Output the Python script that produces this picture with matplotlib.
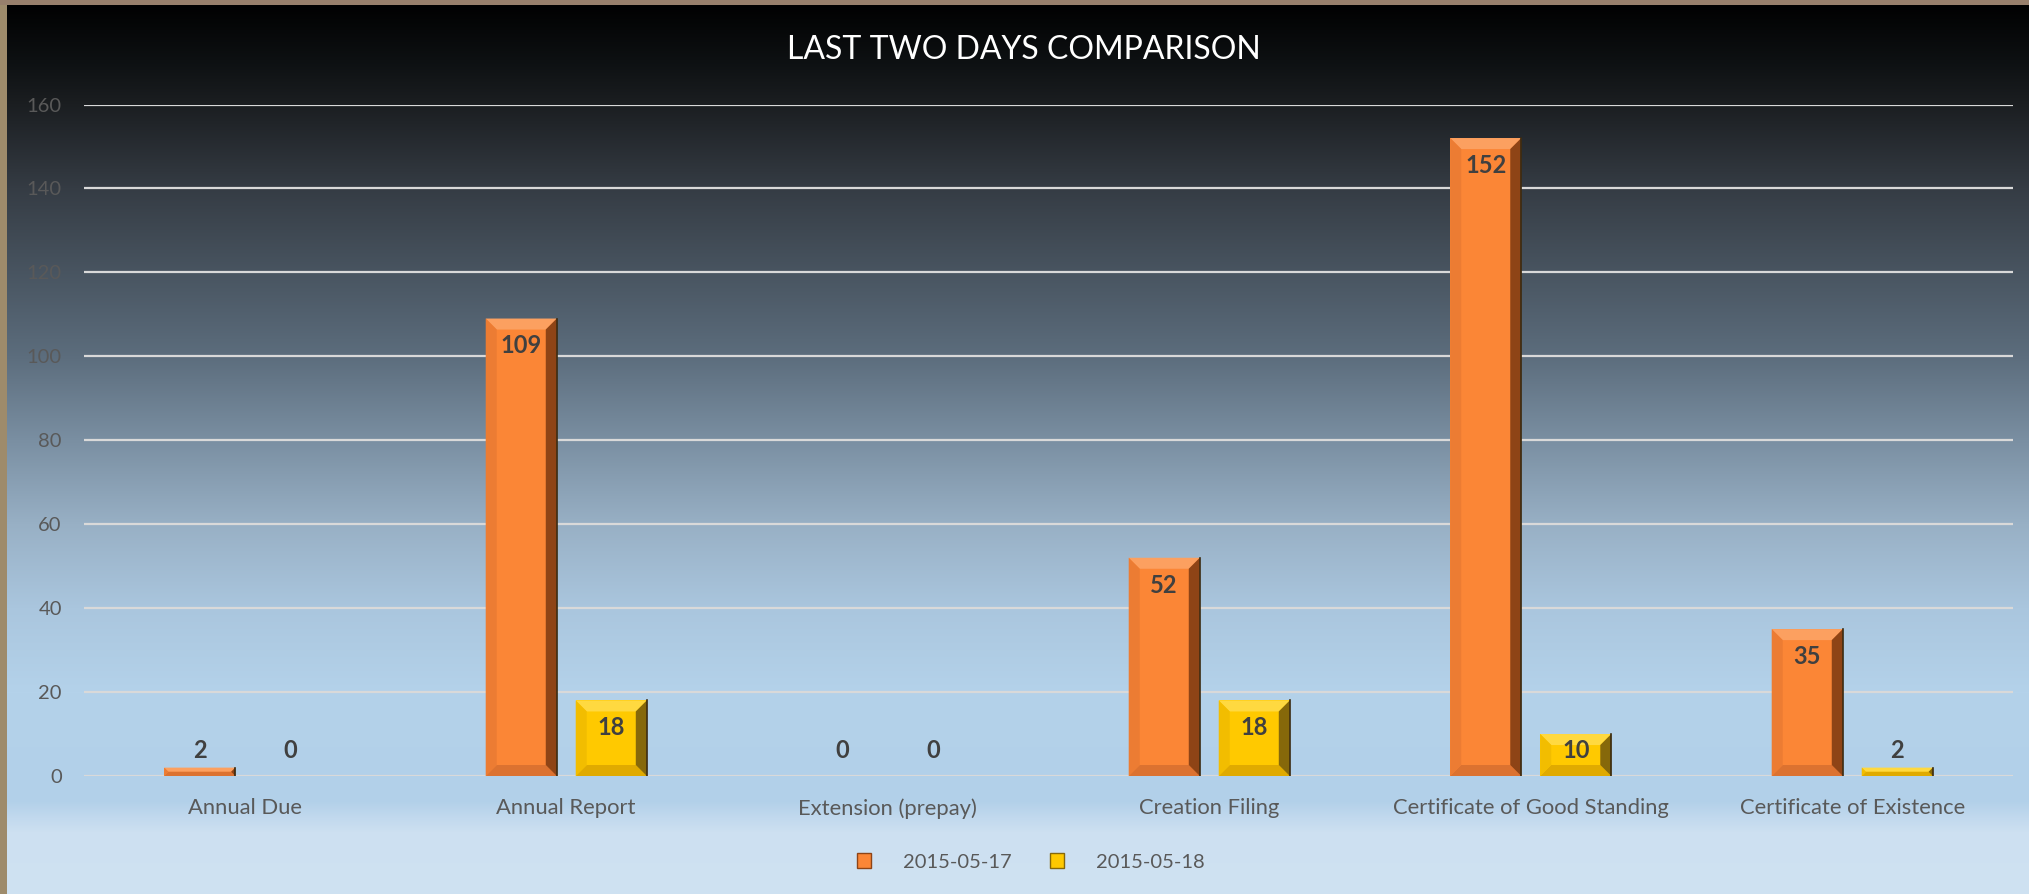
import matplotlib
matplotlib.use("Agg")
import matplotlib.pyplot as plt
import numpy as np
from matplotlib.patches import Polygon, Rectangle, Patch

plt.rcParams['font.family'] = ['Lato', 'DejaVu Sans']

# dades
categories = ["Annual Due", "Annual Report", "Extension (prepay)", "Creation Filing",
              "Certificate of Good Standing", "Certificate of Existence"]
day1 = [2, 109, 0, 52, 152, 35]
day2 = [0, 18, 0, 18, 10, 2]
series_names = ["2015-05-17", "2015-05-18"]
title = "LAST TWO DAYS COMPARISON"

W, H = 2029, 894
fig = plt.figure(figsize=(W / 100, H / 100), dpi=100)

# fons amb degradat
bg = fig.add_axes([0, 0, 1, 1], zorder=-10)
stops_y = [0, 60, 104, 188, 356, 440, 524, 608, 692, 800, 818, 832, 894]
stops_c = ["#000000", "#0d1012", "#1b1e21", "#353c44", "#5c6d7d", "#7a8fa2",
           "#98b0c5", "#aac6de", "#b4d2ea", "#b2d0e9", "#c2d9ee", "#cde0f1", "#cfe2f2"]
rgb = np.array([matplotlib.colors.to_rgb(c) for c in stops_c])
yy = np.arange(H)
grad = np.stack([np.interp(yy, stops_y, rgb[:, k]) for k in range(3)], axis=1)
bg.imshow(grad[:, None, :], aspect="auto", extent=[0, W, H, 0])
bg.set_xlim(0, W)
bg.set_ylim(H, 0)
bg.axis("off")
# marc
bg.add_patch(Rectangle((0, 0), 7, H, color="#9e8b6b", lw=0))
bg.add_patch(Rectangle((0, 0), W, 5, color="#98806c", lw=0))

ax = fig.add_axes([84 / W, 1 - 776 / H, (2013 - 84) / W, (776 - 104.5) / H])
ax.set_facecolor("none")
x = np.arange(len(categories))
bw = 0.221
off = 0.14
ax.set_xlim(-0.5, len(categories) - 0.5)
ax.set_ylim(0, 160)

styles = [
    dict(main="#fb8636", top="#fca060", bottom="#dc7230", left="#ec7c33", right="#8e4416"),
    dict(main="#ffc900", top="#ffd940", bottom="#e0aa00", left="#f2bd00", right="#86680a"),
]

bars1 = ax.bar(x - off, day1, bw, color=styles[0]["main"], zorder=3, lw=0)
bars2 = ax.bar(x + off, day2, bw, color=styles[1]["main"], zorder=3, lw=0)


def bevel(bars, st):
    inv = ax.transData.inverted()
    for b in bars:
        h = b.get_height()
        if h <= 0:
            continue
        x0, x1 = b.get_x(), b.get_x() + b.get_width()
        (px0, py0) = ax.transData.transform((x0, 0))
        (px1, py1) = ax.transData.transform((x1, h))
        d = min(11, (py1 - py0) / 2.0)
        outer = [(px0, py0), (px1, py0), (px1, py1), (px0, py1)]
        inner = [(px0 + d, py0 + d), (px1 - d, py0 + d), (px1 - d, py1 - d), (px0 + d, py1 - d)]
        faces = [
            ([outer[3], outer[2], inner[2], inner[3]], st["top"]),
            ([outer[0], outer[1], inner[1], inner[0]], st["bottom"]),
            ([outer[0], outer[3], inner[3], inner[0]], st["left"]),
            ([outer[1], outer[2], inner[2], inner[1]], st["right"]),
        ]
        for pts, col in faces:
            ax.add_patch(Polygon(inv.transform(pts), closed=True, color=col, lw=0, zorder=4))
        ax.plot([x1, x1], [0, h], color="#3a2a10", lw=1.2, zorder=5)


bevel(bars1, styles[0])
bevel(bars2, styles[1])

for bars, vals in [(bars1, day1), (bars2, day2)]:
    for b, v in zip(bars, vals):
        ty = max(v - 6.5, 6.0)
        ax.text(b.get_x() + b.get_width() / 2, ty, str(v), ha="center", va="center",
                fontsize=17, fontweight="bold", color="#404040", zorder=6)

ax.set_yticks(range(0, 161, 20))
ax.yaxis.grid(True, color="#d9d9d9", lw=1.6, zorder=1)
ax.set_axisbelow(True)
ax.set_xticks(x)
ax.set_xticklabels(categories)
ax.tick_params(axis="both", length=0, colors="#595959", labelsize=14.5)
ax.tick_params(axis="x", labelsize=15.8, pad=16)
ax.tick_params(axis="y", pad=16)
for s in ax.spines.values():
    s.set_visible(False)

fig.text(1024 / W, 1 - 50 / H, title, ha="center", va="center", color="white", fontsize=23)

handles = [Patch(facecolor=styles[0]["main"], edgecolor=styles[0]["right"], lw=1.0),
           Patch(facecolor=styles[1]["main"], edgecolor=styles[1]["right"], lw=1.0)]
leg = fig.legend(handles, series_names, loc="center", bbox_to_anchor=(1031 / W, 1 - 862 / H),
                 ncol=2, frameon=False, fontsize=14.5, handlelength=0.7, handleheight=0.7,
                 handletextpad=1.6, columnspacing=1.9)
for t in leg.get_texts():
    t.set_color("#595959")

fig.savefig("out.png", dpi=100)
